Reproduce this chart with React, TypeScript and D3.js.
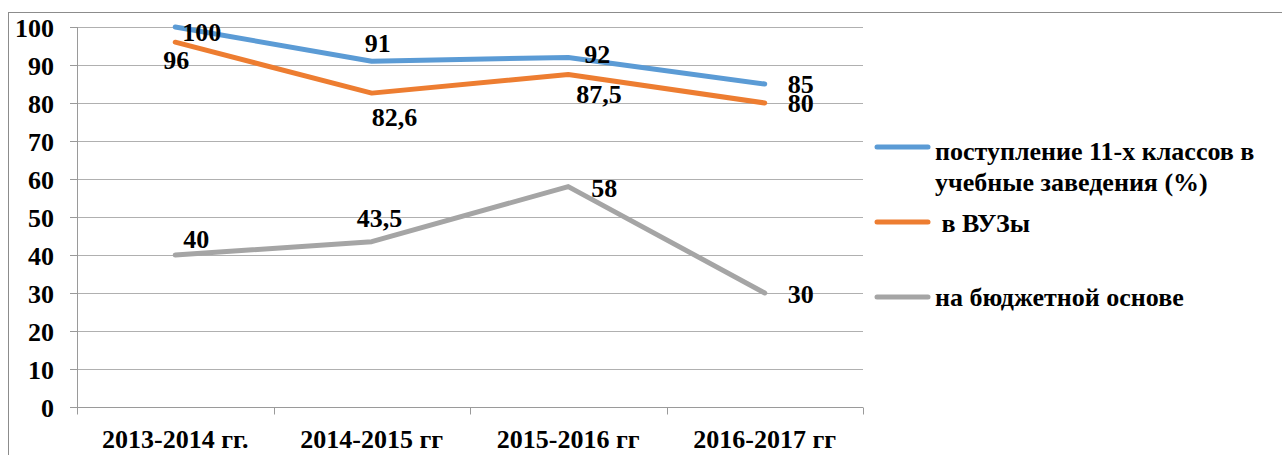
import * as d3 from 'd3';

// categories and series
const years = ['2013-2014 гг.', '2014-2015 гг', '2015-2016 гг', '2016-2017 гг'];
const admission = [100, 91, 92, 85];
const university = [96, 82.6, 87.5, 80];
const budget = [40, 43.5, 58, 30];
const yTicks = [0, 10, 20, 30, 40, 50, 60, 70, 80, 90, 100];

const legendLabels = [['поступление 11-х классов в', 'учебные заведения (%)'], [' в ВУЗы'], ['на бюджетной основе']];

const W = 1282;
const H = 455;
const plot = { left: 77, right: 863, top: 27, bottom: 407 };

const xScale = d3.scaleBand<string>().domain(years).range([plot.left, plot.right]).padding(0);
const cx = (i: number) => (xScale(years[i]) as number) + xScale.bandwidth() / 2;
const yScale = d3.scaleLinear().domain([0, 100]).range([plot.bottom, plot.top]);
const snap = (v: number) => Math.round(v) + 0.5;

const series = [
  { values: admission, color: '#5b9bd5' },
  { values: university, color: '#ed7d31' },
  { values: budget, color: '#a5a5a5' },
];

// label offsets from the point: [dx, dy] of text start / baseline
const labelOffsets = [
  [[7, 14], [-7, -9], [16, 6], [23, 9]],
  [[-12, 27], [0, 33], [8, 28], [23, 9]],
  [[8, -7], [-15, -15], [23, 10], [23, 10]],
];

const legendRows = [
  { y: 147, base: 160 },
  { y: 222, base: 232 },
  { y: 297, base: 306 },
];

const line = d3.line<number>().x((_, i) => cx(i)).y(d => yScale(d));

function Label(props: { x: number; y: number; anchor?: string; children: any }) {
  return (
    <text x={props.x} y={props.y} textAnchor={props.anchor || 'start'} fontFamily="Times New Roman"
      fontSize={26} fontWeight="bold" fill="#000"
      style={{ font: 'bold 26px "Times New Roman", "Liberation Serif", serif', whiteSpace: 'pre' }}>
      {props.children}
    </text>
  );
}

export default function App() {
  const gridColor = '#b0b0b0';
  const axisColor = '#9a9a9a';
  const boundaries = years.map(y => xScale(y) as number).concat([plot.right]);

  return (
    <svg width={W} height={H} style={{ position: 'absolute', left: 0, top: 0 }}>
      {/* outer border, right and bottom run past the picture */}
      <rect x={8.5} y={12.5} width={1300} height={500} fill="white" stroke="#8c8c8c" />

      {/* grid */}
      {yTicks.filter(t => t > 0).map(t => (
        <line key={t} x1={plot.left} x2={plot.right} y1={snap(yScale(t))} y2={snap(yScale(t))}
          stroke={gridColor} />
      ))}

      {/* y axis */}
      <line x1={plot.left + 0.5} x2={plot.left + 0.5} y1={plot.top} y2={plot.bottom} stroke={axisColor} />
      {yTicks.map(t => (
        <g key={t}>
          <line x1={plot.left - 7} x2={plot.left} y1={snap(yScale(t))} y2={snap(yScale(t))} stroke={axisColor} />
          <Label x={54} y={snap(yScale(t)) + 9} anchor="end">{t}</Label>
        </g>
      ))}

      {/* x axis */}
      <line x1={plot.left} x2={plot.right} y1={snap(plot.bottom)} y2={snap(plot.bottom)} stroke={axisColor} />
      {boundaries.map((b, i) => (
        <line key={i} x1={snap(b)} x2={snap(b)} y1={snap(plot.bottom)} y2={snap(plot.bottom) + 7} stroke={axisColor} />
      ))}
      {years.map((y, i) => (
        <Label key={y} x={cx(i)} y={plot.bottom + 41} anchor="middle">{y}</Label>
      ))}

      {/* lines */}
      {series.map((s, si) => (
        <path key={si} d={line(s.values) as string} fill="none" stroke={s.color} strokeWidth={5}
          strokeLinecap="round" strokeLinejoin="round" />
      ))}

      {/* data labels */}
      {series.map((s, si) => s.values.map((v, i) => (
        <Label key={`${si}-${i}`} x={cx(i) + labelOffsets[si][i][0]} y={yScale(v) + labelOffsets[si][i][1]}>
          {String(v).replace('.', ',')}
        </Label>
      )))}

      {/* legend */}
      {legendRows.map((r, i) => (
        <g key={i}>
          <line x1={877} x2={928} y1={r.y} y2={r.y} stroke={series[i].color} strokeWidth={5}
            strokeLinecap="round" />
          {legendLabels[i].map((t, li) => (
            <Label key={li} x={935} y={r.base + li * 31}>{t}</Label>
          ))}
        </g>
      ))}
    </svg>
  );
}
